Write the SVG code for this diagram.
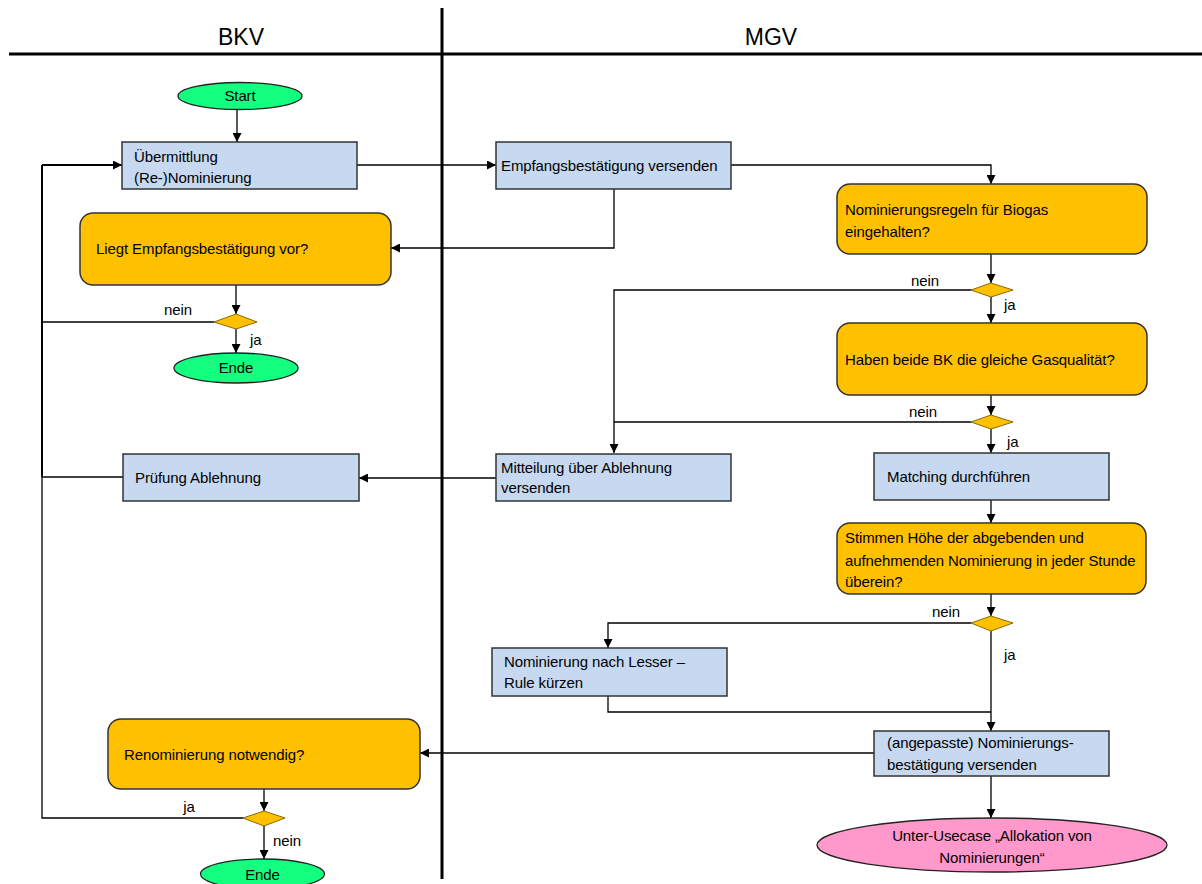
<svg xmlns="http://www.w3.org/2000/svg" width="1202" height="884" viewBox="0 0 1202 884">
<defs>
<marker id="ah" viewBox="0 0 10 10" refX="10" refY="5" markerWidth="9" markerHeight="9" markerUnits="userSpaceOnUse" orient="auto"><path d="M0,0 L10,5 L0,10 Z" fill="#000"/></marker>
<style>
.t{font-family:"Liberation Sans",Arial,sans-serif;font-size:15px;fill:#000;letter-spacing:-0.1px}
.h{font-family:"Liberation Sans",Arial,sans-serif;font-size:23px;fill:#000;text-anchor:middle}
.proc{fill:#C6D9F1;stroke:#333;stroke-width:1.5}
.dec{fill:#FFC000;stroke:#333;stroke-width:1.5}
.dia{fill:#FFC000;stroke:#8a6a00;stroke-width:1}
.term{fill:#12FF80;stroke:#222;stroke-width:1.3}
.sub{fill:#FF99CC;stroke:#222;stroke-width:1.3}
.c{fill:none;stroke:#000;stroke-width:1.3}
.ca{fill:none;stroke:#000;stroke-width:1.3;marker-end:url(#ah)}
.lane{stroke:#000;stroke-width:3;fill:none}
.m{text-anchor:middle}
</style>
</defs>
<rect width="1202" height="884" fill="#fff"/>
<g id="lanes">
<line class="lane" x1="9" y1="54" x2="1202" y2="54"/>
<line class="lane" x1="442" y1="8" x2="442" y2="879"/>
<text class="h" x="241" y="45">BKV</text>
<text class="h" x="771" y="45">MGV</text>
</g>
<g id="connectors">
<path class="ca" d="M237,109 V142"/>
<path class="ca" d="M357,165 H496"/>
<path class="ca" d="M731,165 H991 V184"/>
<path class="ca" d="M614,189 V248 H391"/>
<path class="ca" d="M236,285 V314"/>
<path class="c" d="M214,322 H42"/>
<path class="ca" d="M236,329 V353"/>
<path class="c" style="stroke-width:2" d="M42,477 V165"/>
<path class="ca" style="stroke-width:2" d="M42,165 H122"/>
<path class="c" d="M123,477 H42"/>
<path class="ca" d="M991,254 V283"/>
<path class="ca" d="M971,290 H614 V453"/>
<path class="ca" d="M991,297 V323"/>
<path class="ca" d="M991,395 V415"/>
<path class="c" d="M971,422 H614"/>
<path class="ca" d="M991,429 V453"/>
<path class="ca" d="M496,478 H359"/>
<path class="ca" d="M991,500 V523"/>
<path class="ca" d="M991,594 V616"/>
<path class="ca" d="M971,623 H608 V648"/>
<path class="ca" d="M991,631 V731"/>
<path class="c" d="M608,696 V712 H991"/>
<path class="ca" d="M874,753 H420"/>
<path class="ca" d="M991,776 V818"/>
<path class="ca" d="M264,789 V811"/>
<path class="c" d="M243,818 H42 V477"/>
<path class="ca" d="M264,826 V859"/>
<text class="t m" x="178" y="315">nein</text>
<text class="t" x="250" y="345">ja</text>
<text class="t m" x="925" y="286">nein</text>
<text class="t" x="1004" y="310">ja</text>
<text class="t m" x="923" y="417">nein</text>
<text class="t" x="1007" y="447">ja</text>
<text class="t m" x="946" y="617">nein</text>
<text class="t" x="1004" y="660">ja</text>
<text class="t m" x="189" y="812">ja</text>
<text class="t" x="273" y="846">nein</text>
</g>
<g id="start">
<ellipse class="term" cx="240" cy="96" rx="62" ry="13.5"/>
<text class="t m" x="240" y="101">Start</text>
</g>
<g id="uebermittlung">
<rect class="proc" x="122" y="142" width="235" height="47"/>
<text class="t" x="134" y="162">Übermittlung</text>
<text class="t" x="134" y="183">(Re-)Nominierung</text>
</g>
<g id="empfang">
<rect class="proc" x="496" y="142" width="235" height="47"/>
<text class="t" x="501" y="171">Empfangsbestätigung versenden</text>
</g>
<g id="liegt">
<rect class="dec" x="80" y="213" width="311" height="72" rx="13"/>
<text class="t" x="96" y="254">Liegt Empfangsbestätigung vor?</text>
</g>
<g id="d1"><path class="dia" d="M236,314 L257,322 L236,329 L214,322 Z"/></g>
<g id="ende1">
<ellipse class="term" cx="236" cy="368" rx="62" ry="15"/>
<text class="t m" x="236" y="373">Ende</text>
</g>
<g id="regeln">
<rect class="dec" x="837" y="184" width="310" height="70" rx="13"/>
<text class="t" x="845" y="215">Nominierungsregeln für Biogas</text>
<text class="t" x="845" y="237">eingehalten?</text>
</g>
<g id="d2"><path class="dia" d="M991,283 L1013,290 L991,297 L971,290 Z"/></g>
<g id="haben">
<rect class="dec" x="837" y="323" width="310" height="72" rx="13"/>
<text class="t" x="845" y="365">Haben beide BK die gleiche Gasqualität?</text>
</g>
<g id="d3"><path class="dia" d="M991,415 L1013,422 L991,429 L971,422 Z"/></g>
<g id="mitteilung">
<rect class="proc" x="496" y="454" width="235" height="47"/>
<text class="t" x="501" y="473">Mitteilung über Ablehnung</text>
<text class="t" x="501" y="493">versenden</text>
</g>
<g id="pruefung">
<rect class="proc" x="123" y="454" width="236" height="47"/>
<text class="t" x="135" y="483">Prüfung Ablehnung</text>
</g>
<g id="matching">
<rect class="proc" x="874" y="453" width="235" height="47"/>
<text class="t" x="887" y="482">Matching durchführen</text>
</g>
<g id="stimmen">
<rect class="dec" x="837" y="523" width="309" height="71" rx="13"/>
<text class="t" x="845" y="543">Stimmen Höhe der abgebenden und</text>
<text class="t" x="845" y="566">aufnehmenden Nominierung in jeder Stunde</text>
<text class="t" x="845" y="587">überein?</text>
</g>
<g id="d4"><path class="dia" d="M991,616 L1013,623 L991,631 L971,623 Z"/></g>
<g id="lesser">
<rect class="proc" x="492" y="648" width="235" height="48"/>
<text class="t" x="504" y="667">Nominierung nach Lesser –</text>
<text class="t" x="504" y="688">Rule kürzen</text>
</g>
<g id="angepasst">
<rect class="proc" x="874" y="731" width="235" height="45"/>
<text class="t" x="887" y="748">(angepasste) Nominierungs-</text>
<text class="t" x="887" y="770">bestätigung versenden</text>
</g>
<g id="renominierung">
<rect class="dec" x="108" y="719" width="312" height="70" rx="13"/>
<text class="t" x="124" y="760">Renominierung notwendig?</text>
</g>
<g id="d5"><path class="dia" d="M264,811 L285,818 L264,826 L243,818 Z"/></g>
<g id="ende2">
<ellipse class="term" cx="262.5" cy="874" rx="62" ry="15"/>
<text class="t m" x="262.5" y="880">Ende</text>
</g>
<g id="unterusecase">
<ellipse class="sub" cx="992" cy="845" rx="175" ry="27"/>
<text class="t m" x="992" y="841">Unter-Usecase „Allokation von</text>
<text class="t m" x="992" y="863">Nominierungen“</text>
</g>
</svg>
